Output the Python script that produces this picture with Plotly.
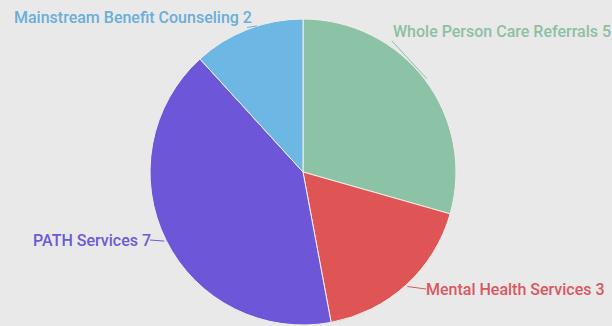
import math
import plotly.graph_objects as go

labels = ["Whole Person Care Referrals", "Mental Health Services", "PATH Services", "Mainstream Benefit Counseling"]
values = [5, 3, 7, 2]
colors = ["#8cc3a6", "#df5555", "#6e56d9", "#6cb7e4"]
text_colors = ["#8dbfa4", "#d9575f", "#6c5ad6", "#6aaed9"]

W, H = 612, 326
cx, cy, R = 303, 172, 153

# label box edges in pixels: (left, right, y_center, side)
label_pos = [(394, 609, 32, "right"), (428, 603, 289, "right"), (35, 149, 240, "left"), (10, 256, 17, "left")]

fig = go.Figure(go.Pie(
    labels=labels, values=values, sort=False, direction="clockwise", rotation=0,
    marker=dict(colors=colors, line=dict(color="#f2efe8", width=1)),
    textinfo="none", hoverinfo="label+value", showlegend=False,
    domain=dict(x=[(cx - R) / W, (cx + R) / W], y=[(H - cy - R) / H, (H - cy + R) / H]),
))

total = sum(values)
cum = 0
annotations = []
shapes = []
for lab, v, tc, (lft, rgt, ly, side) in zip(labels, values, text_colors, label_pos):
    mid = (cum + v / 2) / total * 2 * math.pi
    cum += v
    ex = cx + (R + 2) * math.sin(mid)
    ey = cy - (R + 2) * math.cos(mid)
    annotations.append(dict(
        x=(lft + rgt) / 2 / W, y=1 - ly / H, xref="paper", yref="paper",
        xanchor="center", yanchor="middle",
        text=f"{lab} {v}", showarrow=False,
        font=dict(family="Roboto", size=16, color=tc, weight=500),
    ))
    tx = lft - 2 if side == "right" else rgt + 1
    ty = ly + (9 if ly < 60 else 0)
    shapes.append(dict(
        type="line", xref="paper", yref="paper",
        x0=ex / W, y0=1 - ey / H, x1=tx / W, y1=1 - ty / H,
        line=dict(color=tc, width=1),
    ))

fig.update_layout(
    width=W, height=H, margin=dict(l=0, r=0, t=0, b=0),
    paper_bgcolor="#e9e9e9", plot_bgcolor="#e9e9e9",
    annotations=annotations, shapes=shapes,
)
fig.write_html("out.html", config={"displayModeBar": False},
               post_script="document.body.style.margin='0';document.body.style.background='#e9e9e9';")
